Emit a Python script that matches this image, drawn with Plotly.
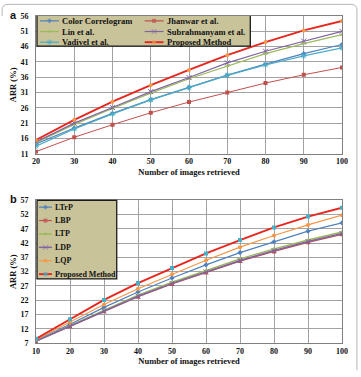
import plotly.graph_objects as go

# ---------------- data ----------------
x_a = [20, 30, 40, 50, 60, 70, 80, 90, 100]
color_correlogram = [14.2, 19.4, 24.2, 28.7, 32.7, 36.7, 40.3, 43.7, 46.7]
jhanwar = [11.7, 16.4, 20.5, 24.4, 27.9, 31.0, 34.1, 36.8, 39.2]
lin = [14.6, 20.6, 25.8, 30.8, 35.5, 39.7, 43.7, 47.0, 49.9]
subrahmanyam = [14.9, 21.0, 26.1, 31.3, 35.9, 40.7, 44.5, 47.8, 51.0]
vadivel = [13.5, 19.1, 24.0, 28.6, 32.6, 36.6, 40.0, 43.0, 45.6]
proposed_a = [15.5, 22.1, 28.0, 33.4, 38.4, 43.2, 47.5, 51.3, 54.4]

x_b = [10, 20, 30, 40, 50, 60, 70, 80, 90, 100]
ltrp = [8.0, 13.6, 19.5, 24.9, 29.8, 34.4, 38.7, 42.5, 46.2, 49.1]
lbp = [7.6, 12.8, 18.1, 23.2, 27.7, 31.7, 35.7, 39.1, 42.3, 45.1]
ltp = [7.8, 13.1, 18.5, 23.8, 28.3, 32.4, 36.5, 40.0, 43.1, 45.9]
ldp = [7.7, 12.9, 18.2, 23.4, 27.9, 31.9, 35.9, 39.4, 42.6, 45.4]
lqp = [8.2, 14.4, 20.5, 26.0, 31.1, 36.0, 40.6, 44.7, 48.4, 51.8]
proposed_b = [8.5, 15.3, 22.1, 28.0, 33.3, 38.4, 43.1, 47.5, 51.3, 54.4]

yticks_a = [11, 16, 21, 26, 31, 36, 41, 46, 51, 56]
yticks_b = [7, 12, 17, 22, 27, 32, 37, 42, 47, 52, 57]
x_title = "Number of images retrieved"
y_title = "ARR (%)"

# ---------------- style ----------------
SERIF = "Liberation Serif, Times New Roman, serif"
SANS = "Liberation Sans, Arial, sans-serif"
BLUE, RED, GREEN, PURPLE, AQUA, ORANGE = "#4F81BD", "#C0504D", "#9BBB59", "#8064A2", "#4BACC6", "#F79646"
BRIGHT_RED = "#E8261E"
KHAKI = "#C9C39A"
W, H = 361, 377
L, R, T, B = 35, 19, 14, 26
PW, PH = W - L - R, H - T - B

def px(x):
    return (x - L) / PW

def py(y):
    return (H - B - y) / PH

series_a = [
    ("Color Correlogram", color_correlogram, BLUE, BLUE, "diamond", 1.2),
    ("Jhanwar et al.", jhanwar, RED, RED, "square", 1.0),
    ("Lin et al.", lin, GREEN, GREEN, "triangle-up", 1.2),
    ("Subrahmanyam et al.", subrahmanyam, PURPLE, PURPLE, "x-thin-open", 1.2),
    ("Vadivel et al.", vadivel, AQUA, AQUA, "asterisk-open", 1.2),
    ("Proposed Method", proposed_a, BRIGHT_RED, ORANGE, "circle", 1.9),
]
series_b = [
    ("LTrP", ltrp, BLUE, BLUE, "diamond", 1.2),
    ("LBP", lbp, RED, RED, "square", 1.2),
    ("LTP", ltp, GREEN, GREEN, "triangle-up", 1.5),
    ("LDP", ldp, PURPLE, PURPLE, "x-thin-open", 1.5),
    ("LQP", lqp, ORANGE, ORANGE, "circle", 1.2),
    ("Proposed Method", proposed_b, BRIGHT_RED, AQUA, "square", 1.9),
]

def marker_for(sym, mc, size=4):
    if sym.endswith("-open"):
        return dict(symbol=sym, size=size + 1, color=mc, line=dict(color=mc, width=1))
    return dict(symbol=sym, size=size, color=mc, line=dict(width=0))

fig = go.Figure()

def add_series(series, xs, xa, ya):
    for name, vals, lc, mc, sym, lw in series:
        fig.add_trace(go.Scatter(
            x=xs, y=vals, name=name, mode="lines+markers",
            line=dict(color=lc, width=lw),
            marker=marker_for(sym, mc),
            xaxis=xa, yaxis=ya, showlegend=False))

add_series(series_a, x_a, "x", "y")
add_series(series_b, x_b, "x2", "y2")

# ---------------- manual legends (overlay axis in pixel units) ----------------
annotations = []

def draw_legend(series, box, cols, row_y0, row_dy, col_x, line_len, fsize):
    x0, y0, x1, y1 = box
    fig.add_trace(go.Scatter(
        x=[x0, x1, x1, x0, x0], y=[y0, y0, y1, y1, y0], mode="lines",
        fill="toself", fillcolor=KHAKI, line=dict(color="#1a1a1a", width=1.3),
        xaxis="x3", yaxis="y3", showlegend=False, hoverinfo="skip"))
    for i, (name, vals, lc, mc, sym, lw) in enumerate(series):
        r, c = divmod(i, cols)
        yy = row_y0 + r * row_dy
        xs = col_x[c]
        m = marker_for(sym, mc)
        m["size"] = [0, m["size"], 0]
        fig.add_trace(go.Scatter(
            x=[xs, xs + line_len / 2, xs + line_len], y=[yy, yy, yy],
            mode="lines+markers", line=dict(color=lc, width=max(lw, 1.2)),
            marker=m, xaxis="x3", yaxis="y3", showlegend=False, hoverinfo="skip"))
        annotations.append(dict(
            x=xs + line_len + 1, y=yy, xref="x3", yref="y3", text=name,
            showarrow=False, xanchor="left", yanchor="middle",
            font=dict(family=SERIF, size=fsize, color="#111111", weight="bold")))

draw_legend(series_a, (36, 12, 250, 45), 2, 19, 11, [39, 144], 19, 8.5)
draw_legend(series_b, (36, 204, 116, 285), 1, 211, 13.8, [38], 13, 8)

# ---------------- axes ----------------
grid = "#a3a3a3"
border = "#808080"
tickfont = dict(family=SERIF, size=8, color="#111111", weight="bold")
titlefont = dict(family=SERIF, size=8.5, color="#111111", weight="bold")

def xaxis(rng, ticks, anchor):
    return dict(range=rng, tickvals=ticks, showgrid=True, gridcolor=grid, gridwidth=1,
                showline=True, linecolor=border, linewidth=1, mirror=True, ticks="",
                zeroline=False, tickfont=tickfont, anchor=anchor, domain=[0, 1],
                title=dict(text=x_title, font=titlefont, standoff=3))

def yaxis(rng, ticks, dom, anchor):
    return dict(range=rng, tickvals=ticks, showgrid=True, gridcolor=grid, gridwidth=1,
                showline=True, linecolor=border, linewidth=1, mirror=True, ticks="",
                zeroline=False, tickfont=tickfont, anchor=anchor, domain=dom,
                ticklabelstandoff=5,
                title=dict(text=y_title, font=titlefont, standoff=2))

dom_a = [py(156), 1]
dom_b = [0, py(204)]

# frame (top and right edges with rounded corners)
fl, fr, ft, rad = 1, 357, 2, 6
frame_path = (f"M {px(fl)},{py(14)} L {px(fl)},{py(ft + rad)} "
              f"Q {px(fl)},{py(ft)} {px(fl + rad)},{py(ft)} "
              f"L {px(fr - rad)},{py(ft)} Q {px(fr)},{py(ft)} {px(fr)},{py(ft + rad)} "
              f"L {px(fr)},{py(H + 2)}")

annotations += [
    dict(x=px(12), y=py(13), xref="paper", yref="paper", text="a", showarrow=False,
         xanchor="center", yanchor="middle",
         font=dict(family=SANS, size=11, color="#111111", weight="bold")),
    dict(x=px(12), y=py(203), xref="paper", yref="paper", text="b", showarrow=False,
         xanchor="center", yanchor="middle",
         font=dict(family=SANS, size=11, color="#111111", weight="bold")),
]

fig.update_layout(
    width=W, height=H, margin=dict(l=L, r=R, t=T, b=B),
    paper_bgcolor="white", plot_bgcolor="rgba(0,0,0,0)",
    showlegend=False,
    xaxis=xaxis([20, 100], x_a, "y"),
    yaxis=yaxis([11, 56], yticks_a, dom_a, "x"),
    xaxis2=xaxis([10, 100], x_b, "y2"),
    yaxis2=yaxis([7, 57], yticks_b, dom_b, "x2"),
    xaxis3=dict(range=[L, W - R], domain=[0, 1], visible=False, fixedrange=True, anchor="y3"),
    yaxis3=dict(range=[H - B, T], domain=[0, 1], visible=False, fixedrange=True, anchor="x3"),
    annotations=annotations,
    shapes=[dict(type="path", path=frame_path, xref="paper", yref="paper",
                 line=dict(color="#b5b5b5", width=1), layer="above")],
)

fig.write_html("out.html")
